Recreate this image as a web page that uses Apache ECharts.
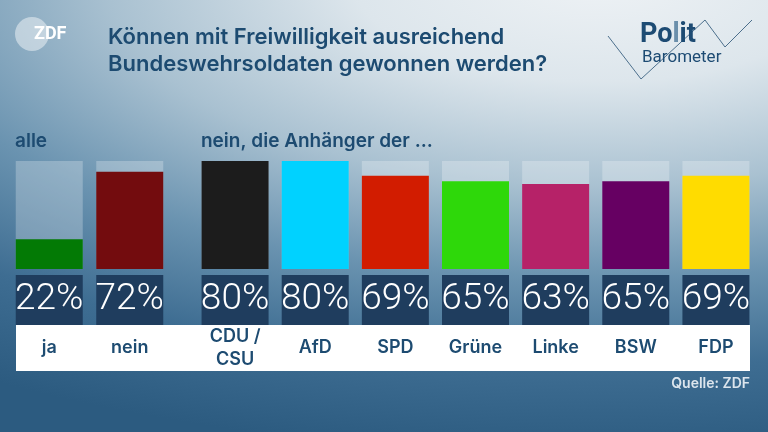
<!DOCTYPE html>
<html>
<head>
<meta charset="utf-8">
<script src="https://cdn.jsdelivr.net/npm/echarts@6/dist/echarts.min.js"></script>
<style>
  html, body { margin: 0; padding: 0; }
  #main {
    width: 768px; height: 432px;
    background: radial-gradient(ellipse 160% 120% at 78% -5%, #eef2f5 0%, #dde6ec 20%, #a9c1d1 40%, #6a93b0 58%, #3e6d92 75%, #2c5b80 92%);
  }
</style>
</head>
<body>
<div id="main"></div>
<script>
// alle
const allCats = ['ja', 'nein']
const allVals = [22, 72]
const allColors = ['#037a05', '#730c0e']

// nein, nach Parteianhängern
const partyCats = ['CDU /\nCSU', 'AfD', 'SPD', 'Grüne', 'Linke', 'BSW', 'FDP']
const partyVals = [80, 80, 69, 65, 63, 65, 69]
const partyColors = ['#1c1c1c', '#00d2ff', '#d21c00', '#2ed80a', '#b62268', '#660062', '#ffdc00']

const navy = '#1d4b71'
const boxColor = '#1f3d5e'
const maxScale = 80
const font = 'Inter'

const chart = echarts.init(document.getElementById('main'))

function labelFmt(vals) {
    return function (name, idx) {
        const lines = name.split('\n')
        const p = '{p|' + vals[idx] + '%}'
        if (lines.length > 1) return p + '\n' + lines.map(l => '{c2|' + l + '}').join('\n')
        return p + '\n{c|' + name + '}'
    }
}

function xAxisFor(gridIndex, cats, vals) {
    return {
        type: 'category',
        gridIndex,
        data: cats,
        z: 10,
        axisLine: { show: false },
        axisTick: { show: false },
        axisLabel: {
            interval: 0,
            margin: 6,
            formatter: labelFmt(vals),
            rich: {
                p: {
                    width: 67, height: 50, lineHeight: 50,
                    backgroundColor: boxColor,
                    color: '#fff', fontSize: 37, fontWeight: 300,
                    fontFamily: 'Roboto', align: 'center'
                },
                c: {
                    height: 46, lineHeight: 46,
                    color: navy, fontSize: 18, fontWeight: 600,
                    fontFamily: font, align: 'center'
                },
                c2: {
                    height: 23, lineHeight: 23,
                    color: navy, fontSize: 18, fontWeight: 600,
                    fontFamily: font, align: 'center'
                }
            }
        }
    }
}

function yAxisFor(gridIndex) {
    return { type: 'value', gridIndex, min: 0, max: maxScale, show: false }
}

function barFor(idx, vals, colors) {
    return {
        type: 'bar',
        xAxisIndex: idx,
        yAxisIndex: idx,
        barWidth: 67,
        showBackground: true,
        backgroundStyle: { color: 'rgba(255,255,255,0.25)' },
        data: vals.map((v, i) => ({ value: v, itemStyle: { color: colors[i] } })),
        silent: true
    }
}

const option = {
    animation: false,
    title: {
        text: 'Können mit Freiwilligkeit ausreichend\nBundeswehrsoldaten gewonnen werden?',
        left: 103, top: 19,
        textStyle: { color: navy, fontSize: 22, fontWeight: 600, fontFamily: font, lineHeight: 27 }
    },
    grid: [
        { left: 9, top: 161, width: 161, height: 108 },
        { left: 195, top: 161, width: 561, height: 108 }
    ],
    xAxis: [xAxisFor(0, allCats, allVals), xAxisFor(1, partyCats, partyVals)],
    yAxis: [yAxisFor(0), yAxisFor(1)],
    series: [barFor(0, allVals, allColors), barFor(1, partyVals, partyColors)],
    graphic: [
        // weißer Streifen unter den Prozentwerten
        { type: 'rect', z: 0, shape: { x: 16, y: 325, width: 734, height: 46 }, style: { fill: '#ffffff' } },
        { type: 'text', left: 15, top: 132, style: { text: 'alle', fill: navy, font: '600 19px Inter' } },
        { type: 'text', left: 201, top: 132, style: { text: 'nein, die Anhänger der ...', fill: navy, font: '600 19px Inter' } },
        { type: 'text', right: 18, top: 377, style: { text: 'Quelle: ZDF', fill: '#dce5ed', font: '600 14px Inter' } },
        // ZDF Logo
        { type: 'circle', shape: { cx: 32, cy: 34, r: 17 }, style: { fill: 'rgba(255,255,255,0.45)' } },
        { type: 'text', left: 34, top: 25, style: { text: 'ZDF', fill: '#ffffff', font: 'bold 18px Roboto' } },
        // Politbarometer Logo
        { type: 'polyline', shape: { points: [[608, 36], [641, 79], [705, 20], [725, 47], [752, 20]] }, style: { stroke: '#4c6f8c', lineWidth: 1, fill: null } },
        { type: 'text', left: 640, top: 22, style: {
            text: '{a|Po}{b|l}{a|it}',
            rich: {
                a: { fill: '#1d4b73', font: 'bold 27px Roboto' },
                b: { fill: '#6b8fab', font: 'bold 27px Roboto' }
            }
        } },
        { type: 'text', left: 642, top: 49, style: { text: 'Barometer', fill: '#1d4b73', font: '17px Roboto' } }
    ]
}

chart.setOption(option)
</script>
</body>
</html>
